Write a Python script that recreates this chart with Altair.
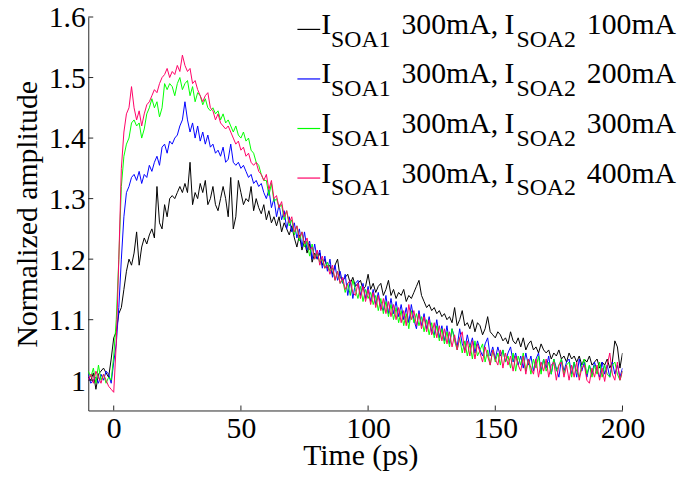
import altair as alt
import pandas as pd

# ---------------- data ----------------
time_ps = list(range(-10, 201))

soa2_100 = [
    1.005, 1.0, 1.012, 0.985, 1.01, 1.015, 1.02, 1.012, 1.005, 1.035,
    1.07, 1.08, 1.11, 1.12, 1.15, 1.18, 1.20, 1.19, 1.21, 1.245,
    1.19, 1.22, 1.235, 1.225, 1.24, 1.25, 1.235, 1.32, 1.26, 1.25,
    1.29, 1.27, 1.30, 1.305, 1.30, 1.31, 1.32, 1.31, 1.325, 1.31,
    1.36, 1.29, 1.31, 1.30, 1.325, 1.31, 1.33, 1.29, 1.30, 1.32,
    1.29, 1.28, 1.30, 1.32, 1.30, 1.27, 1.335, 1.25, 1.27, 1.33,
    1.31, 1.29, 1.30, 1.295, 1.32, 1.28, 1.30, 1.285, 1.275, 1.29,
    1.265, 1.28, 1.26, 1.27, 1.255, 1.27, 1.245, 1.26, 1.25, 1.24,
    1.255, 1.235, 1.22, 1.24, 1.215, 1.23, 1.21, 1.225, 1.195, 1.21,
    1.20, 1.21, 1.19, 1.20, 1.185, 1.19, 1.175, 1.19, 1.20, 1.17,
    1.165, 1.17, 1.175, 1.16, 1.17, 1.155, 1.16, 1.165, 1.15, 1.155,
    1.175, 1.15, 1.16, 1.145, 1.155, 1.16, 1.14, 1.15, 1.165, 1.14,
    1.15, 1.135, 1.145, 1.14, 1.15, 1.13, 1.14, 1.135, 1.145, 1.155,
    1.165, 1.14, 1.13, 1.12, 1.125, 1.115, 1.12, 1.11, 1.115, 1.105,
    1.11, 1.10, 1.105, 1.095, 1.12, 1.09, 1.10, 1.115, 1.09, 1.095,
    1.085, 1.10, 1.08, 1.095, 1.09, 1.075, 1.085, 1.105, 1.08, 1.075,
    1.07, 1.08, 1.075, 1.065, 1.07, 1.06, 1.08, 1.065, 1.06, 1.07,
    1.055, 1.07, 1.05, 1.06, 1.065, 1.05, 1.055, 1.045, 1.06, 1.05,
    1.045, 1.05, 1.035, 1.045, 1.04, 1.05, 1.035, 1.04, 1.03, 1.045,
    1.035, 1.04, 1.03, 1.04, 1.025, 1.035, 1.03, 1.04, 1.025, 1.03,
    1.035, 1.02, 1.03, 1.025, 1.035, 1.02, 1.03, 1.065, 1.055, 1.02,
    1.045,
]

soa2_200 = [
    1.01, 0.995, 1.0, 1.005, 0.995, 1.01, 1.0, 1.015, 1.01, 0.995,
    1.03, 1.06, 1.12, 1.20, 1.27, 1.31, 1.32, 1.335, 1.34, 1.33,
    1.345, 1.325, 1.34, 1.335, 1.355, 1.345, 1.36, 1.37, 1.355, 1.385,
    1.39, 1.375, 1.395, 1.39, 1.40, 1.405, 1.42, 1.43, 1.46, 1.43,
    1.41, 1.425, 1.40, 1.42, 1.395, 1.41, 1.39, 1.405, 1.385, 1.39,
    1.375, 1.38, 1.37, 1.385, 1.36, 1.365, 1.39, 1.36, 1.355, 1.36,
    1.35, 1.355, 1.345, 1.335, 1.34, 1.325, 1.33, 1.32, 1.325, 1.31,
    1.30, 1.315, 1.285, 1.30, 1.27, 1.29, 1.265, 1.28, 1.25, 1.27,
    1.245, 1.26, 1.235, 1.25, 1.22, 1.245, 1.215, 1.23, 1.20, 1.225,
    1.20, 1.215, 1.185, 1.205, 1.18, 1.20, 1.17, 1.19, 1.165, 1.18,
    1.16, 1.175, 1.14, 1.165, 1.135, 1.16, 1.165, 1.14, 1.16, 1.135,
    1.155, 1.13, 1.15, 1.125, 1.145, 1.12, 1.115, 1.14, 1.11, 1.135,
    1.11, 1.13, 1.105, 1.125, 1.10, 1.12, 1.095, 1.125, 1.10, 1.085,
    1.115, 1.09, 1.11, 1.085, 1.105, 1.08, 1.075, 1.10, 1.07, 1.09,
    1.065, 1.09, 1.06, 1.085, 1.07, 1.055, 1.085, 1.06, 1.05, 1.075,
    1.055, 1.07, 1.045, 1.065, 1.05, 1.04, 1.06, 1.07, 1.04, 1.055,
    1.035, 1.055, 1.04, 1.05, 1.03, 1.045, 1.055, 1.03, 1.045, 1.025,
    1.04, 1.02, 1.045, 1.025, 1.04, 1.015, 1.035, 1.045, 1.015, 1.035,
    1.02, 1.04, 1.01, 1.035, 1.02, 1.005, 1.035, 1.015, 1.03, 1.035,
    1.01, 1.03, 1.005, 1.035, 1.015, 1.03, 1.005, 1.025, 1.01, 1.03,
    1.015, 1.005, 1.03, 1.01, 1.025, 1.005, 1.03, 1.01, 1.025, 1.005,
    1.02,
]

soa2_300 = [
    1.015, 1.005, 1.02, 0.995, 1.025, 1.0, 1.01, 0.995, 1.005, 1.0,
    1.04, 1.10, 1.20, 1.32, 1.37, 1.39, 1.40, 1.425, 1.43, 1.42,
    1.425, 1.40, 1.415, 1.44, 1.45, 1.465, 1.45, 1.46, 1.435, 1.45,
    1.49, 1.48, 1.49, 1.485, 1.47, 1.49, 1.50, 1.48, 1.49, 1.495,
    1.47, 1.485, 1.46, 1.475, 1.47, 1.455, 1.465, 1.45, 1.445, 1.45,
    1.44, 1.445, 1.43, 1.44, 1.425, 1.43, 1.42, 1.41, 1.42, 1.405,
    1.40, 1.41, 1.395, 1.40, 1.38, 1.375, 1.36, 1.355, 1.34, 1.33,
    1.33, 1.305, 1.325, 1.295, 1.30, 1.285, 1.29, 1.265, 1.28, 1.255,
    1.265, 1.24, 1.255, 1.23, 1.245, 1.22, 1.23, 1.205, 1.225, 1.20,
    1.21, 1.195, 1.20, 1.185, 1.195, 1.18, 1.185, 1.165, 1.18, 1.16,
    1.165, 1.145, 1.16, 1.14, 1.165, 1.15, 1.135, 1.155, 1.13, 1.15,
    1.135, 1.145, 1.125, 1.14, 1.115, 1.135, 1.11, 1.13, 1.105, 1.125,
    1.10, 1.12, 1.095, 1.115, 1.09, 1.11, 1.085, 1.115, 1.095, 1.11,
    1.09, 1.105, 1.08, 1.10, 1.075, 1.095, 1.07, 1.09, 1.065, 1.085,
    1.06, 1.08, 1.055, 1.085, 1.065, 1.05, 1.07, 1.045, 1.065, 1.04,
    1.06, 1.035, 1.065, 1.04, 1.05, 1.06, 1.03, 1.05, 1.025, 1.05,
    1.03, 1.045, 1.025, 1.05, 1.03, 1.04, 1.02, 1.045, 1.015, 1.04,
    1.025, 1.045, 1.015, 1.035, 1.01, 1.035, 1.02, 1.04, 1.01, 1.035,
    1.015, 1.03, 1.01, 1.035, 1.015, 1.025, 1.035, 1.01, 1.025, 1.03,
    1.005, 1.03, 1.015, 1.005, 1.025, 1.035, 1.01, 1.025, 1.005, 1.025,
    1.01, 1.03, 1.005, 1.025, 1.01, 1.005, 1.025, 1.03, 1.01, 1.0,
    1.015,
]

soa2_400 = [
    1.0, 1.01, 0.995, 1.015, 1.005, 0.995, 1.01, 1.0, 0.99, 0.985,
    0.98, 1.06, 1.20, 1.35, 1.41, 1.44, 1.45, 1.485, 1.45, 1.43,
    1.445, 1.42, 1.44, 1.455, 1.46, 1.47, 1.48, 1.475, 1.49, 1.50,
    1.505, 1.515, 1.50, 1.51, 1.505, 1.52, 1.51, 1.537, 1.52, 1.51,
    1.515, 1.49, 1.495, 1.48, 1.47, 1.46, 1.47, 1.475, 1.45, 1.445,
    1.43, 1.44, 1.425, 1.42, 1.415, 1.42, 1.41, 1.40, 1.39, 1.395,
    1.38, 1.385, 1.37, 1.375, 1.36, 1.355, 1.36, 1.345, 1.34, 1.33,
    1.34, 1.315, 1.33, 1.30, 1.305, 1.285, 1.295, 1.27, 1.28, 1.26,
    1.27, 1.245, 1.255, 1.235, 1.245, 1.225, 1.235, 1.215, 1.22, 1.20,
    1.215, 1.19, 1.205, 1.185, 1.19, 1.175, 1.19, 1.165, 1.18, 1.16,
    1.17, 1.15, 1.16, 1.165, 1.145, 1.14, 1.16, 1.135, 1.155, 1.13,
    1.15, 1.125, 1.145, 1.12, 1.14, 1.115, 1.135, 1.11, 1.13, 1.105,
    1.125, 1.10, 1.12, 1.095, 1.115, 1.09, 1.125, 1.10, 1.115, 1.09,
    1.11, 1.085, 1.105, 1.08, 1.10, 1.075, 1.095, 1.07, 1.09, 1.065,
    1.085, 1.06, 1.08, 1.055, 1.075, 1.05, 1.07, 1.08, 1.045, 1.065,
    1.04, 1.065, 1.035, 1.06, 1.045, 1.03, 1.055, 1.04, 1.025, 1.05,
    1.035, 1.025, 1.05, 1.02, 1.045, 1.025, 1.04, 1.015, 1.04, 1.025,
    1.015, 1.04, 1.01, 1.035, 1.02, 1.01, 1.035, 1.005, 1.03, 1.015,
    1.035, 1.005, 1.025, 1.03, 1.0, 1.025, 1.03, 1.005, 1.025, 1.0,
    1.025, 1.005, 1.03, 1.0, 1.02, 1.025, 1.0, 0.995, 1.02, 1.005,
    1.025, 1.0, 1.02, 0.998, 1.025, 1.045, 1.01, 1.0, 1.03, 1.0,
    1.015,
]

series_names = ["100mA", "200mA", "300mA", "400mA"]
series_colors = ["#000000", "#0000ff", "#00ff00", "#ff0066"]
series_values = [soa2_100, soa2_200, soa2_300, soa2_400]

x_ticks = [0, 50, 100, 150, 200]
y_ticks = [1.0, 1.1, 1.2, 1.3, 1.4, 1.5, 1.6]

# ---------------- tables ----------------
rows = []
for name, vals in zip(series_names, series_values):
    n = min(len(time_ps), len(vals))
    for t, v in zip(time_ps[:n], vals[:n]):
        rows.append({"t": t, "amp": v, "series": name})
df = pd.DataFrame(rows)

legend_df = pd.DataFrame({"series": series_names, "row": list(range(len(series_names)))})

FONT = "Liberation Serif, Times New Roman, Times, serif"
AX = "#262626"
W, H = 539, 397

color_scale = alt.Scale(domain=series_names, range=series_colors)

x_scale = alt.Scale(domain=[-10, 200], nice=False, zero=False)
y_scale = alt.Scale(domain=[0.95, 1.6], nice=False, zero=False)

lines = alt.Chart(df).mark_line(strokeWidth=1, clip=True).encode(
    x=alt.X("t:Q", scale=x_scale,
            axis=alt.Axis(values=x_ticks, title="Time (ps)", grid=False, ticks=False, tickSize=0,
                          domainColor=AX, domainWidth=1, labelFont=FONT, labelFontSize=30,
                          labelColor="#000", labelPadding=3, labelFlush=False,
                          titleFont=FONT, titleFontSize=30, titleFontWeight="normal",
                          titleColor="#000", titleBaseline="alphabetic", titleY=55,
                          titleX=W / 2 + 5)),
    y=alt.Y("amp:Q", scale=y_scale,
            axis=alt.Axis(values=y_ticks, format="~g", title="Normalized amplitude", grid=False,
                          ticks=False, tickSize=0, domainColor=AX, domainWidth=1,
                          labelFont=FONT, labelFontSize=30, labelColor="#000", labelPadding=3,
                          labelFlush=False, labelOffset=1,
                          titleFont=FONT, titleFontSize=30, titleFontWeight="normal",
                          titleColor="#000", titleBaseline="alphabetic", titleX=-52,
                          titleAngle=270)),
    color=alt.Color("series:N", scale=color_scale, legend=None),
    detail="series:N",
)

# inward tick marks (MATLAB style)
yt = alt.Chart(pd.DataFrame({"v": y_ticks})).mark_rule(color=AX, strokeWidth=1).encode(
    y=alt.Y("v:Q", scale=y_scale), x=alt.value(0), x2=alt.value(5))
xt = alt.Chart(pd.DataFrame({"v": x_ticks})).mark_rule(color=AX, strokeWidth=1).encode(
    x=alt.X("v:Q", scale=x_scale), y=alt.value(H), y2=alt.value(H - 5))

# legend built from text pieces
leg = alt.Chart(legend_df).transform_calculate(
    base="17 + 50 * datum.row", sub="30 + 50 * datum.row", ly="12.5 + 50 * datum.row")

leg_line = leg.mark_rule(strokeWidth=1.2).encode(
    x=alt.value(211), x2=alt.value(234),
    y=alt.Y("ly:Q", scale=None),
    color=alt.Color("series:N", scale=color_scale, legend=None))

def piece(text, xpos, ypos_field, size):
    return leg.mark_text(text=text, font=FONT, fontSize=size, align="left",
                         baseline="alphabetic", color="#000").encode(
        x=alt.value(xpos), y=alt.Y(f"{ypos_field}:Q", scale=None))

p1 = piece("I", 235, "base", 30)
p2 = piece("SOA1", 245, "sub", 24)
p3 = piece("300mA,", 316, "base", 30)
p4 = piece("I", 420, "base", 30)
p5 = piece("SOA2", 432, "sub", 24)
p6 = leg.mark_text(font=FONT, fontSize=30, align="left", baseline="alphabetic",
                   color="#000").encode(
    x=alt.value(503), y=alt.Y("base:Q", scale=None), text="series:N")

chart = alt.layer(lines, yt, xt, leg_line, p1, p2, p3, p4, p5, p6).properties(
    width=W, height=H,
    autosize=alt.AutoSizeParams(type="none"),
    padding={"left": 81, "top": 7, "right": 55, "bottom": 62},
    background="white",
).configure_view(stroke=None)

chart.save("out.html", embed_options={"renderer": "svg", "actions": False})
